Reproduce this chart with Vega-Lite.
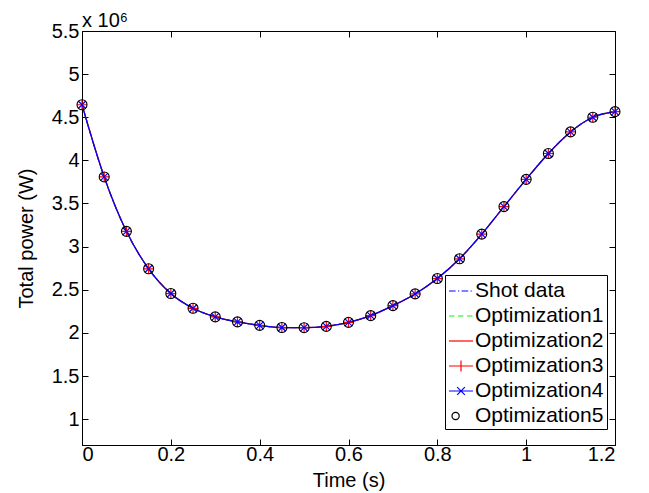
{
  "$schema": "https://vega.github.io/schema/vega-lite/v6.json",
  "autosize": {"type": "none"},
  "padding": {"left": 82, "top": 31, "right": 34, "bottom": 48},
  "width": 533,
  "height": 414,
  "title": {"text": "x 10⁶", "anchor": "start", "frame": "group", "fontSize": 20, "fontWeight": "normal", "font": "Liberation Sans", "color": "black", "offset": 4, "dy": 14},
  "config": {
    "font": "Liberation Sans",
    "view": {"stroke": "black", "strokeWidth": 1},
    "axis": {"labelFont": "Liberation Sans", "titleFont": "Liberation Sans", "labelFontSize": 20, "titleFontSize": 20, "titleFontWeight": "normal", "labelColor": "black", "titleColor": "black", "domainColor": "black", "tickColor": "black", "grid": false, "tickSize": -6, "labelPadding": 9}
  },
  "data": {"values": [
    {"t": 0, "p": 4645000},
    {"t": 0.05, "p": 3808000},
    {"t": 0.1, "p": 3177000},
    {"t": 0.15, "p": 2743000},
    {"t": 0.2, "p": 2456000},
    {"t": 0.25, "p": 2285000},
    {"t": 0.3, "p": 2185000},
    {"t": 0.35, "p": 2127000},
    {"t": 0.4, "p": 2087000},
    {"t": 0.45, "p": 2062000},
    {"t": 0.5, "p": 2060000},
    {"t": 0.55, "p": 2075000},
    {"t": 0.6, "p": 2122000},
    {"t": 0.65, "p": 2200000},
    {"t": 0.7, "p": 2316000},
    {"t": 0.75, "p": 2452000},
    {"t": 0.8, "p": 2630000},
    {"t": 0.85, "p": 2859000},
    {"t": 0.9, "p": 3145000},
    {"t": 0.95, "p": 3464000},
    {"t": 1.0, "p": 3780000},
    {"t": 1.05, "p": 4080000},
    {"t": 1.1, "p": 4330000},
    {"t": 1.15, "p": 4500000},
    {"t": 1.2, "p": 4565000}
  ]},
  "encoding": {
    "x": {"field": "t", "type": "quantitative", "scale": {"domain": [0, 1.2], "nice": false, "zero": false}},
    "y": {"field": "p", "type": "quantitative", "scale": {"domain": [700000, 5500000], "nice": false, "zero": false}}
  },
  "layer": [
    {
      "mark": {"type": "line", "color": "#0000ff", "strokeWidth": 1.2, "strokeDash": [6, 3, 1, 3], "interpolate": "monotone"},
      "encoding": {
        "x": {"field": "t", "type": "quantitative", "axis": {"orient": "bottom", "title": "Time (s)", "values": [0, 0.2, 0.4, 0.6, 0.8, 1, 1.2], "labelExpr": "format(datum.value, '~g')", "labelPadding": 5, "titlePadding": 6}},
        "y": {"field": "p", "type": "quantitative", "axis": {"orient": "left", "title": "Total power (W)", "values": [1000000, 1500000, 2000000, 2500000, 3000000, 3500000, 4000000, 4500000, 5000000, 5500000], "labelExpr": "format(datum.value / 1000000, '.1~f')", "titlePadding": 15}}
      }
    },
    {
      "mark": {"type": "line", "color": "#00ff00", "strokeWidth": 1.2, "strokeDash": [5, 4], "interpolate": "monotone"},
      "encoding": {
        "x": {"field": "t", "type": "quantitative", "axis": {"orient": "top", "title": null, "labels": false, "domain": false, "labelPadding": 0, "values": [0, 0.2, 0.4, 0.6, 0.8, 1, 1.2]}},
        "y": {"field": "p", "type": "quantitative", "axis": {"orient": "right", "title": null, "labels": false, "domain": false, "labelPadding": 0, "values": [1000000, 1500000, 2000000, 2500000, 3000000, 3500000, 4000000, 4500000, 5000000, 5500000]}}
      }
    },
    {
      "mark": {"type": "line", "color": "#ff0000", "strokeWidth": 1.2, "interpolate": "monotone"},
      "encoding": {
        "x": {"field": "t", "type": "quantitative", "axis": null},
        "y": {"field": "p", "type": "quantitative", "axis": null}
      }
    },
    {
      "mark": {"type": "line", "color": "#0000ff", "strokeWidth": 1.2, "interpolate": "monotone"},
      "encoding": {
        "x": {"field": "t", "type": "quantitative", "axis": null},
        "y": {"field": "p", "type": "quantitative", "axis": null}
      }
    },
    {
      "mark": {"type": "point", "shape": "M-1,0H1M0,-1V1", "size": 100, "filled": false, "stroke": "#ff0000", "strokeWidth": 1.2, "opacity": 1},
      "encoding": {
        "x": {"field": "t", "type": "quantitative", "axis": null},
        "y": {"field": "p", "type": "quantitative", "axis": null}
      }
    },
    {
      "mark": {"type": "point", "shape": "M-0.75,-0.75L0.75,0.75M-0.75,0.75L0.75,-0.75", "size": 100, "filled": false, "stroke": "#0000ff", "strokeWidth": 1.2, "opacity": 1},
      "encoding": {
        "x": {"field": "t", "type": "quantitative", "axis": null},
        "y": {"field": "p", "type": "quantitative", "axis": null}
      }
    },
    {
      "mark": {"type": "point", "shape": "circle", "size": 100, "filled": false, "stroke": "#000000", "strokeWidth": 1.1, "opacity": 1},
      "encoding": {
        "x": {"field": "t", "type": "quantitative", "axis": null},
        "y": {"field": "p", "type": "quantitative", "axis": null}
      }
    },
    {
      "data": {"values": [
        {"series": "Shot data"},
        {"series": "Optimization1"},
        {"series": "Optimization2"},
        {"series": "Optimization3"},
        {"series": "Optimization4"},
        {"series": "Optimization5"}
      ]},
      "mark": {"type": "point", "filled": false, "opacity": 0, "strokeWidth": 1.2},
      "encoding": {
        "x": null,
        "y": null,
        "color": {
          "field": "series", "type": "nominal",
          "scale": {"domain": ["Shot data", "Optimization1", "Optimization2", "Optimization3", "Optimization4", "Optimization5"], "range": ["#0000ff", "#00ff00", "#ff0000", "#ff0000", "#0000ff", "#000000"]},
          "legend": {"title": null, "orient": "none", "legendX": 363, "legendY": 244, "symbolSize": 576, "symbolStrokeWidth": 1.2, "symbolOpacity": 1, "labelFontSize": 21, "labelFont": "Liberation Sans", "labelColor": "black", "labelOffset": 1, "rowPadding": 2, "padding": 3, "strokeColor": "black", "fillColor": "white", "symbolFillColor": "transparent"}
        },
        "shape": {
          "field": "series", "type": "nominal",
          "scale": {"domain": ["Shot data", "Optimization1", "Optimization2", "Optimization3", "Optimization4", "Optimization5"], "range": ["M-1,0H-0.45M-0.25,0H-0.15M0.05,0H0.6M0.8,0H0.9", "M-1,0H-0.55M-0.25,0H0.2M0.5,0H0.95", "M-1,0H1", "M-1,0H1M0,-0.45V0.45", "M-1,0H1M-0.32,-0.32L0.32,0.32M-0.32,0.32L0.32,-0.32", "M-0.75,0A0.3,0.3,0,1,0,-0.15,0A0.3,0.3,0,1,0,-0.75,0"]},
          "legend": {"title": null, "orient": "none", "legendX": 363, "legendY": 244, "symbolSize": 576, "symbolStrokeWidth": 1.2, "symbolOpacity": 1, "labelFontSize": 21, "labelFont": "Liberation Sans", "labelColor": "black", "labelOffset": 1, "rowPadding": 2, "padding": 3, "strokeColor": "black", "fillColor": "white", "symbolFillColor": "transparent"}
        }
      }
    }
  ],
  "resolve": {"axis": {"x": "independent", "y": "independent"}}
}
